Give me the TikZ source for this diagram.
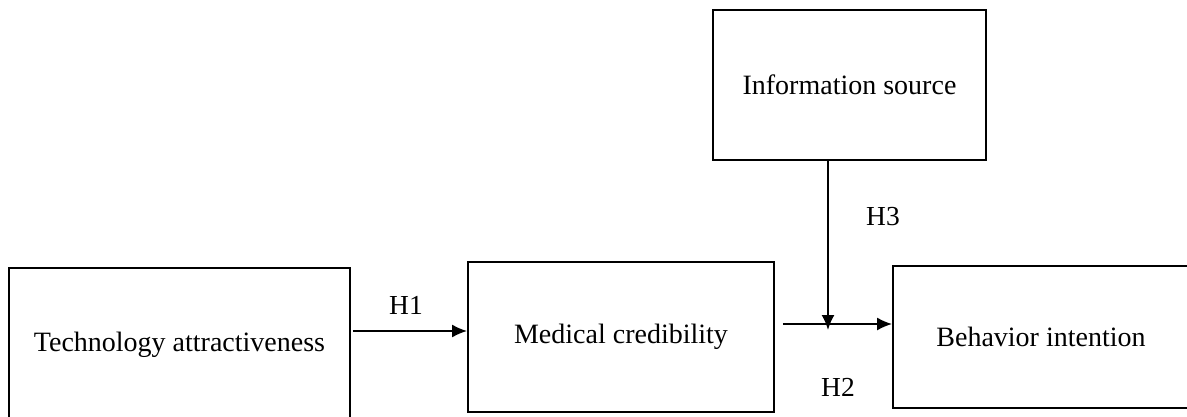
\documentclass[tikz,border=0pt]{standalone}
\usepackage{fontspec}
\setmainfont{Liberation Serif}
\usetikzlibrary{arrows.meta}
\begin{document}
\begin{tikzpicture}[x=1pt,y=-1pt,
  box/.style={draw=black,line width=1.8pt,fill=white,inner sep=0pt,font=\fontsize{28}{32}\selectfont},
  hlabel/.style={inner sep=0pt,font=\fontsize{27.5}{30}\selectfont},
  arr/.style={line width=1.8pt,-{Latex[length=15pt,width=13pt]}}]
\useasboundingbox (0,0) rectangle (1187,417);
\node[box,minimum width=341pt,minimum height=154pt] (tech) at (179.5,345) {Technology attractiveness};
\node[box,minimum width=306pt,minimum height=150pt] (med) at (621,337) {Medical credibility};
\node[box,minimum width=296pt,minimum height=142pt] (beh) at (1041,337) {Behavior intention};
\node[box,minimum width=273pt,minimum height=150pt] (info) at (849.5,85) {Information source};
\coordinate (join) at (828,330);
\draw[arr] ([xshift=2pt]tech.east |- 0,331) -- (med.west |- 0,331);
\draw[arr] ([xshift=8pt]med.east |- 0,324) -- (beh.west |- 0,324);
\draw[arr] (info.south -| join) -- (join);
\node[hlabel] (h1) at (406,305) {H1};
\node[hlabel] (h2) at (838,387) {H2};
\node[hlabel] (h3) at (883,217) {H3};
\end{tikzpicture}
\end{document}
